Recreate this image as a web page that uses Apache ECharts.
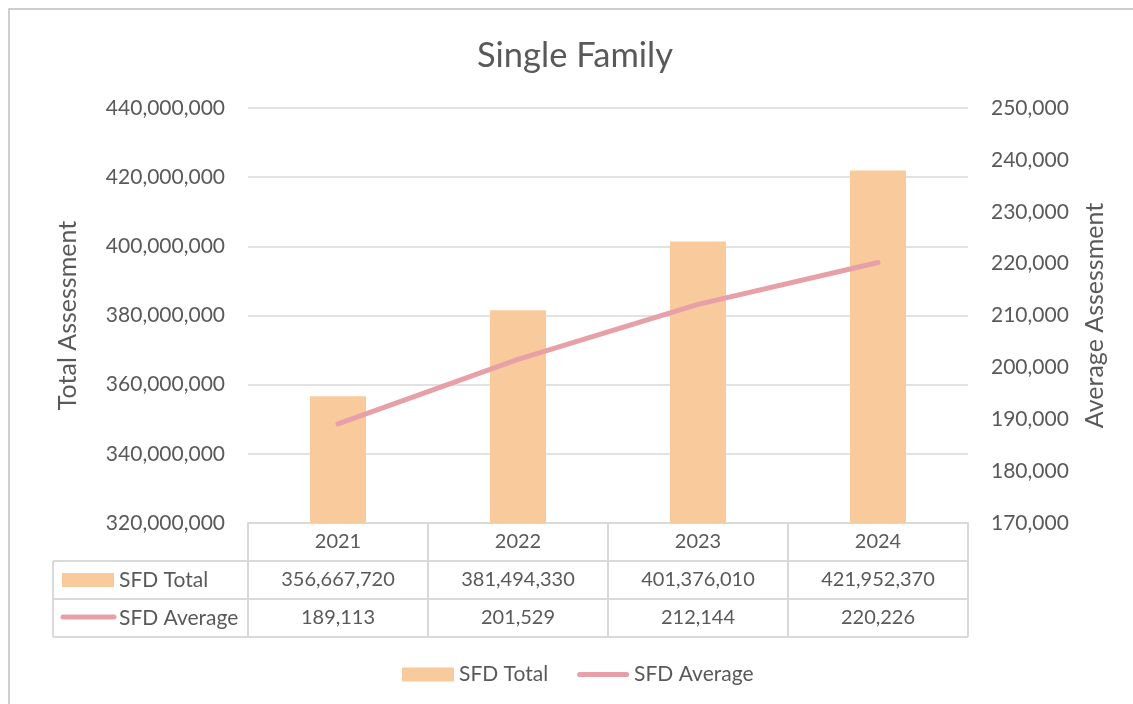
<!DOCTYPE html>
<html>
<head>
<meta charset="utf-8">
<script src="https://cdn.jsdelivr.net/npm/echarts@6/dist/echarts.min.js"></script>
<style>
  html, body { margin: 0; padding: 0; background: #fff; }
  #chart { width: 1133px; height: 704px; }
</style>
</head>
<body>
<div id="chart"></div>
<script>
const years = ['2021', '2022', '2023', '2024'];
const sfdTotal = [356667720, 381494330, 401376010, 421952370];
const sfdAverage = [189113, 201529, 212144, 220226];

const FONT = 'Lato';
const TEXT = '#595959';
const LINE = '#D9D9D9';
const BAR_COLOR = '#F9CB9C';
const AVG_COLOR = '#E79FA8';

// layout
const W = 1133, H = 704;
const GRID_L = 248, GRID_R = 968, GRID_T = 108, GRID_B = 523;
const ROW_H = 38;
const TABLE_L = 53;

const fmt = (v) => Number(v).toLocaleString('en-US');

const chart = echarts.init(document.getElementById('chart'));

// data table frame + row headers
const tableGraphics = [
  { type: 'rect', shape: { x: 9, y: 9, width: 1400, height: 1000 },
    style: { fill: null, stroke: '#BFBFBF', lineWidth: 1.5 }, silent: true },
  { type: 'line', shape: { x1: TABLE_L, y1: GRID_B + ROW_H, x2: GRID_R, y2: GRID_B + ROW_H },
    style: { stroke: LINE, lineWidth: 2 } },
  { type: 'line', shape: { x1: TABLE_L, y1: GRID_B + 2 * ROW_H, x2: GRID_R, y2: GRID_B + 2 * ROW_H },
    style: { stroke: LINE, lineWidth: 2 } },
  { type: 'line', shape: { x1: TABLE_L, y1: GRID_B + 3 * ROW_H, x2: GRID_R, y2: GRID_B + 3 * ROW_H },
    style: { stroke: LINE, lineWidth: 2 } },
  { type: 'line', shape: { x1: TABLE_L, y1: GRID_B + ROW_H, x2: TABLE_L, y2: GRID_B + 3 * ROW_H },
    style: { stroke: LINE, lineWidth: 2 } },
  { type: 'rect', shape: { x: 62, y: GRID_B + 1.5 * ROW_H - 7, width: 52, height: 14 },
    style: { fill: BAR_COLOR } },
  { type: 'text', x: 119, y: GRID_B + 1.5 * ROW_H,
    style: { text: 'SFD Total', font: '21px ' + FONT, fill: TEXT, verticalAlign: 'middle' } },
  { type: 'line', shape: { x1: 63, y1: GRID_B + 2.5 * ROW_H - 1, x2: 114, y2: GRID_B + 2.5 * ROW_H - 1 },
    style: { stroke: AVG_COLOR, lineWidth: 5, lineCap: 'round' } },
  { type: 'text', x: 119, y: GRID_B + 2.5 * ROW_H,
    style: { text: 'SFD Average', font: '21px ' + FONT, fill: TEXT, verticalAlign: 'middle' } },
];

const option = {
  animation: false,
  textStyle: { fontFamily: FONT, color: TEXT },
  title: {
    text: 'Single Family',
    left: 472,
    top: 33,
    textStyle: { fontFamily: FONT, fontSize: 34.5, fontWeight: 'normal', color: TEXT },
  },
  legend: {
    left: 402,
    top: 664,
    padding: 0,
    itemWidth: 52,
    itemHeight: 14,
    itemGap: 29,
    selectedMode: false,
    textStyle: { fontFamily: FONT, fontSize: 21, color: TEXT },
    data: [
      { name: 'SFD Total', icon: 'rect' },
      {
        name: 'SFD Average',
        icon: 'path://M2.5,0 L49.5,0 A2.5,2.5 0 0 1 49.5,5 L2.5,5 A2.5,2.5 0 0 1 2.5,0 Z',
        lineStyle: { width: 0 },
      },
    ],
  },
  grid: {
    left: GRID_L,
    right: W - GRID_R,
    top: GRID_T,
    bottom: H - GRID_B,
  },
  xAxis: {
    type: 'category',
    data: years,
    axisLine: { show: true, lineStyle: { color: LINE, width: 2 } },
    axisTick: { show: true, interval: 0, length: ROW_H * 3, lineStyle: { color: LINE, width: 2 } },
    axisLabel: {
      interval: 0,
      margin: 0,
      formatter: (val, idx) =>
        `{c|${val}}\n{c|${fmt(sfdTotal[idx])}}\n{c|${fmt(sfdAverage[idx])}}`,
      rich: {
        c: { fontFamily: FONT, fontSize: 20, color: TEXT, lineHeight: ROW_H, align: 'center' },
      },
    },
  },
  yAxis: [
    {
      type: 'value',
      min: 320000000,
      max: 440000000,
      interval: 20000000,
      name: 'Total Assessment',
      nameLocation: 'middle',
      nameRotate: 90,
      nameGap: 168,
      nameTextStyle: { fontFamily: FONT, fontSize: 25, color: TEXT },
      axisLine: { show: false },
      axisTick: { show: false },
      axisLabel: { margin: 23, fontFamily: FONT, fontSize: 21, color: TEXT, formatter: fmt },
      splitLine: { lineStyle: { color: LINE, width: 1.5 } },
    },
    {
      type: 'value',
      position: 'right',
      min: 170000,
      max: 250000,
      interval: 10000,
      name: 'Average Assessment',
      nameLocation: 'middle',
      nameRotate: 90,
      nameGap: 114,
      nameTextStyle: { fontFamily: FONT, fontSize: 25, color: TEXT },
      axisLine: { show: false },
      axisTick: { show: false },
      axisLabel: { margin: 23, fontFamily: FONT, fontSize: 21, color: TEXT, formatter: fmt },
      splitLine: { show: false },
    },
  ],
  series: [
    {
      name: 'SFD Total',
      type: 'bar',
      data: sfdTotal,
      barWidth: 56,
      itemStyle: { color: BAR_COLOR },
    },
    {
      name: 'SFD Average',
      type: 'line',
      yAxisIndex: 1,
      data: sfdAverage,
      symbol: 'none',
      color: AVG_COLOR,
      itemStyle: { color: AVG_COLOR },
      lineStyle: { color: AVG_COLOR, width: 5, cap: 'round' },
      z: 5,
    },
  ],
  graphic: tableGraphics,
};

chart.setOption(option);
</script>
</body>
</html>
